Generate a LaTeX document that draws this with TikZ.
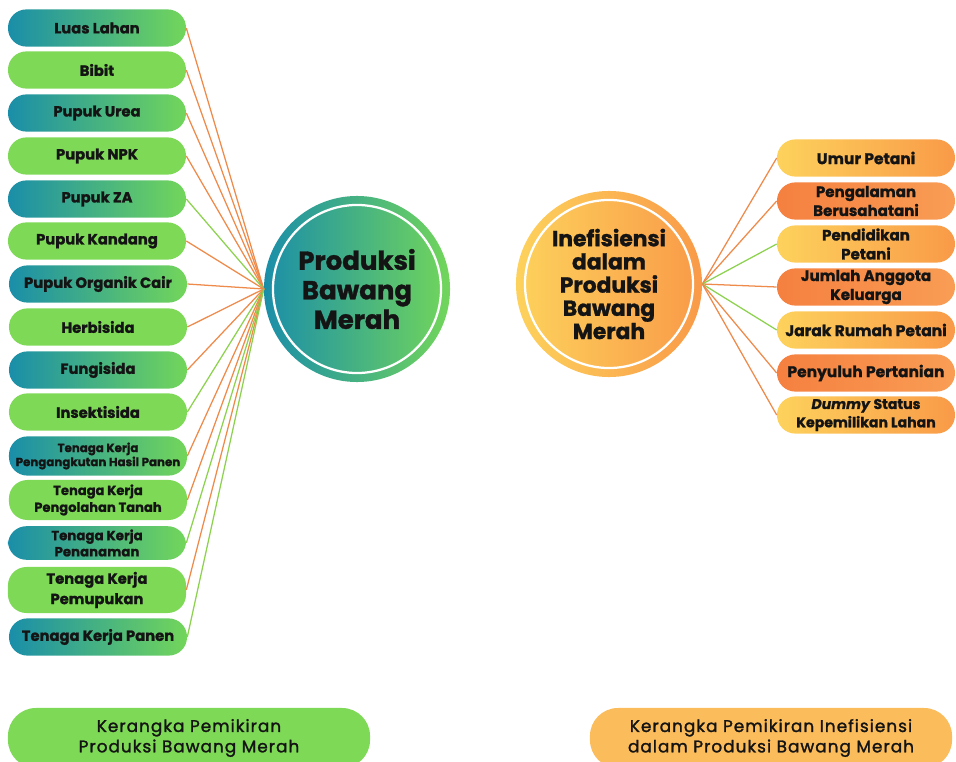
\documentclass[tikz,border=0pt]{standalone}
\usepackage{fontspec}
\setmainfont{Poppins}
\usepackage{xcolor}
\usetikzlibrary{positioning}
\definecolor{bmteal}{HTML}{1A8EA9}
\definecolor{bmgreen}{HTML}{72D65A}
\definecolor{bmlime}{HTML}{7ED957}
\definecolor{bmyellow}{HTML}{FDD25C}
\definecolor{bmamber}{HTML}{F99A48}
\definecolor{bmorange}{HTML}{F5803F}
\definecolor{bmpeach}{HTML}{F99D55}
\definecolor{bmlabel}{HTML}{FBBC5B}
\definecolor{bmink}{HTML}{141414}
\definecolor{lineorange}{HTML}{EE8A4A}
\definecolor{linegreen}{HTML}{8DD24F}
\newcommand{\heavy}[2]{\fontsize{#1}{#2}\selectfont\bfseries\addfontfeature{FakeBold=1.2}}
\tikzset{
  box/.style={rounded corners=0.46cm, minimum width=4.45cm, minimum height=0.93cm,
    inner sep=1pt, align=center, font=\heavy{10.5}{12.5}, text=bmink},
  tealbox/.style={box, left color=bmteal, right color=bmgreen},
  limebox/.style={box, fill=bmlime},
  yellowbox/.style={box, left color=bmyellow, right color=bmamber},
  orangebox/.style={box, left color=bmorange, right color=bmpeach},
  hub/.style={circle, minimum size=4.65cm, inner sep=0pt, align=center, text=bmink},
  ring/.style={draw=white, line width=1.6pt},
  orgline/.style={draw=lineorange, line width=0.9pt},
  grnline/.style={draw=linegreen, line width=0.9pt},
  caption/.style={rounded corners=0.7cm, minimum width=9.05cm, minimum height=1.5cm,
    align=center, text=bmink,
    font=\fontsize{12}{14.5}\selectfont\addfontfeature{FakeBold=1.5,LetterSpace=6}}
}
\begin{document}
\begin{tikzpicture}[x=0.025cm, y=-0.025cm]
  \useasboundingbox (0,0) rectangle (956,762);
  % left side: factors of production
  \node[tealbox] (l1) at (97,28) {Luas Lahan};
  \node[limebox] (l2) at (97,70) {Bibit};
  \node[tealbox] (l3) at (97,113) {Pupuk Urea};
  \node[limebox] (l4) at (97,156) {Pupuk NPK};
  \node[tealbox] (l5) at (97,199) {Pupuk ZA};
  \node[limebox] (l6) at (97,241) {Pupuk Kandang};
  \node[tealbox] (l7) at (98,284) {Pupuk Organik Cair};
  \node[limebox] (l8) at (98,327) {Herbisida};
  \node[tealbox] (l9) at (98,370) {Fungisida};
  \node[limebox] (l10) at (98,412) {Insektisida};
  \node[tealbox, minimum height=0.98cm, font=\heavy{8.4}{10}] (l11) at (98,456) {Tenaga Kerja\\Pengangkutan Hasil Panen};
  \node[limebox, minimum height=1cm, font=\heavy{9.3}{12}] (l12) at (98,500) {Tenaga Kerja\\Pengolahan Tanah};
  \node[tealbox, minimum height=0.84cm, inner sep=0pt, font=\heavy{9.5}{11.5}] (l13) at (97,543) {Tenaga Kerja\\Penanaman};
  \node[limebox, minimum height=1.15cm, font=\heavy{10.5}{14.5}] (l14) at (97,590) {Tenaga Kerja\\Pemupukan};
  \node[tealbox, font=\heavy{10.5}{12}] (l15) at (98,637) {Tenaga Kerja Panen};

  \node[hub, left color=bmteal, right color=bmgreen, font=\heavy{18.5}{21}] (prod) at (357,289) {Produksi\\Bawang\\Merah};
  \draw[ring] (prod.center) circle[radius=2.1cm];

  \draw[orgline] (l1.east) -- (prod.west);
  \draw[orgline] (l2.east) -- (prod.west);
  \draw[orgline] (l3.east) -- (prod.west);
  \draw[orgline] (l4.east) -- (prod.west);
  \draw[grnline] (l5.east) -- (prod.west);
  \draw[orgline] (l6.east) -- (prod.west);
  \draw[orgline] (l7.east) -- (prod.west);
  \draw[orgline] (l8.east) -- (prod.west);
  \draw[orgline] (l9.east) -- (prod.west);
  \draw[grnline] (l10.east) -- (prod.west);
  \draw[orgline] (l11.east) -- (prod.west);
  \draw[orgline] (l12.east) -- (prod.west);
  \draw[grnline] (l13.east) -- (prod.west);
  \draw[orgline] (l14.east) -- (prod.west);
  \draw[grnline] (l15.east) -- (prod.west);

  % right side: inefficiency factors
  \node[hub, left color=bmyellow, right color=bmamber, font=\heavy{15.5}{16.5}] (inef) at (609,284) {Inefisiensi\\dalam\\Produksi\\Bawang\\Merah};
  \draw[ring] (inef.center) circle[radius=2.1cm];

  \node[yellowbox, font=\heavy{11}{12}] (r1) at (866,158) {Umur Petani};
  \node[orangebox, font=\heavy{10.7}{13.5}] (r2) at (866,201) {Pengalaman\\Berusahatani};
  \node[yellowbox, font=\heavy{10.7}{13.5}] (r3) at (866,244) {Pendidikan\\Petani};
  \node[orangebox, font=\heavy{10.7}{13.5}] (r4) at (866,287) {Jumlah Anggota\\Keluarga};
  \node[yellowbox, font=\heavy{11}{12}] (r5) at (866,330) {Jarak Rumah Petani};
  \node[orangebox, font=\heavy{11}{12}] (r6) at (866,373) {Penyuluh Pertanian};
  \node[yellowbox, font=\heavy{10}{13}] (r7) at (866,415) {\textit{Dummy} Status\\Kepemilikan Lahan};

  \draw[orgline] (inef.east) -- (r1.west);
  \draw[orgline] (inef.east) -- (r2.west);
  \draw[grnline] (inef.east) -- (r3.west);
  \draw[orgline] (inef.east) -- (r4.west);
  \draw[grnline] (inef.east) -- (r5.west);
  \draw[orgline] (inef.east) -- (r6.west);
  \draw[orgline] (inef.east) -- (r7.west);

  % captions
  \node[caption, fill=bmlime] (capL) at (189,738) {Kerangka Pemikiran\\Produksi Bawang Merah};
  \node[caption, fill=bmlabel] (capR) at (771,738) {Kerangka Pemikiran Inefisiensi\\dalam Produksi Bawang Merah};
\end{tikzpicture}
\end{document}
